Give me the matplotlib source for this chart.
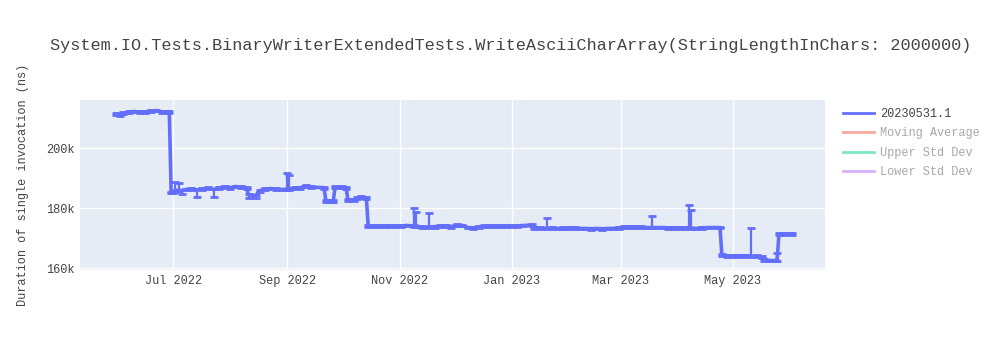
import matplotlib
matplotlib.use("Agg")
import matplotlib.pyplot as plt
import matplotlib.dates as mdates
from matplotlib.lines import Line2D
import pandas as pd

plt.rcParams['font.family'] = ['Liberation Mono', 'DejaVu Sans Mono']

## ==========================
## data (durations in k ns)
## ==========================
dates = [
    "2022-05-31", "2022-06-02", "2022-06-04", "2022-06-07", "2022-06-10", "2022-06-13",
    "2022-06-16", "2022-06-19", "2022-06-22", "2022-06-25", "2022-06-28", "2022-06-29",
    "2022-06-30", "2022-07-01", "2022-07-02", "2022-07-04", "2022-07-06", "2022-07-08",
    "2022-07-11", "2022-07-14", "2022-07-17", "2022-07-20", "2022-07-23", "2022-07-26",
    "2022-07-29", "2022-08-01", "2022-08-04", "2022-08-07", "2022-08-10", "2022-08-11",
    "2022-08-15", "2022-08-17", "2022-08-20", "2022-08-23", "2022-08-26", "2022-08-29",
    "2022-09-01", "2022-09-02", "2022-09-05", "2022-09-08", "2022-09-11", "2022-09-14",
    "2022-09-21", "2022-09-22", "2022-09-24", "2022-09-26", "2022-09-27", "2022-10-01",
    "2022-10-03", "2022-10-04", "2022-10-07", "2022-10-09", "2022-10-11", "2022-10-14",
    "2022-10-15", "2022-10-18", "2022-10-21", "2022-10-24", "2022-10-27", "2022-10-30",
    "2022-11-02", "2022-11-05", "2022-11-09", "2022-11-10", "2022-11-13", "2022-11-17",
    "2022-11-20", "2022-11-23", "2022-11-26", "2022-11-29", "2022-12-02", "2022-12-05",
    "2022-12-08", "2022-12-11", "2022-12-14", "2022-12-17", "2022-12-20", "2022-12-23",
    "2022-12-26", "2022-12-29", "2023-01-01", "2023-01-04", "2023-01-07", "2023-01-12",
    "2023-01-13", "2023-01-16", "2023-01-20", "2023-01-23", "2023-01-26", "2023-01-29",
    "2023-02-01", "2023-02-04", "2023-02-07", "2023-02-10", "2023-02-13", "2023-02-16",
    "2023-02-19", "2023-02-22", "2023-02-25", "2023-02-28", "2023-03-03", "2023-03-06",
    "2023-03-09", "2023-03-12", "2023-03-15", "2023-03-18", "2023-03-21", "2023-03-24",
    "2023-03-27", "2023-03-30", "2023-04-02", "2023-04-05", "2023-04-07", "2023-04-08",
    "2023-04-11", "2023-04-14", "2023-04-17", "2023-04-20", "2023-04-24", "2023-04-25",
    "2023-04-28", "2023-05-01", "2023-05-04", "2023-05-07", "2023-05-11", "2023-05-14",
    "2023-05-17", "2023-05-18", "2023-05-21", "2023-05-24", "2023-05-25", "2023-05-26",
    "2023-05-29", "2023-06-02",
]
values = [
    211.3, 211.0, 211.6, 212.0, 212.2, 211.9,
    212.1, 212.3, 212.5, 212.0, 212.0, 211.9,
    185.2, 185.4, 185.8, 186.0, 185.8, 186.2,
    186.3, 186.0, 186.4, 186.6, 186.2, 186.7,
    187.1, 186.8, 187.2, 186.9, 186.7, 184.4,
    184.2, 185.8, 186.3, 186.5, 186.3, 186.2,
    186.3, 186.4, 186.6, 186.8, 187.3, 187.0,
    186.8, 182.4, 182.2, 182.3, 186.9, 186.9,
    186.6, 182.8, 182.7, 183.4, 183.7, 183.3,
    173.9, 174.0, 174.1, 174.0, 174.0, 174.1,
    174.0, 174.2, 174.0, 174.1, 173.6, 173.7,
    173.8, 173.9, 174.0, 173.8, 174.3, 174.2,
    173.5, 173.4, 173.7, 173.9, 173.9, 174.0,
    173.9, 173.9, 174.0, 174.0, 174.2, 174.3,
    173.3, 173.3, 173.2, 173.3, 173.2, 173.3,
    173.4, 173.3, 173.2, 173.2, 173.1, 173.2,
    173.1, 173.2, 173.2, 173.3, 173.6, 173.7,
    173.6, 173.6, 173.5, 173.5, 173.5, 173.5,
    173.4, 173.4, 173.4, 173.3, 173.5, 173.4,
    173.2, 173.4, 173.5, 173.5, 173.5, 164.3,
    164.0, 164.0, 164.1, 164.1, 164.0, 163.9,
    163.7, 162.6, 162.5, 162.5, 162.7, 171.3,
    171.3, 171.3,
]
err_up = [
    0.3, 0.3, 0.3, 0.3, 0.3, 0.3,
    0.3, 0.3, 0.3, 0.3, 0.3, 0.3,
    0.3, 0.3, 3.0, 2.3, 0.3, 0.3,
    0.3, 0.3, 0.3, 0.3, 0.3, 0.3,
    0.3, 0.3, 0.3, 0.3, 0.3, 0.3,
    0.3, 0.3, 0.3, 0.3, 0.3, 0.3,
    5.5, 4.5, 0.3, 0.3, 0.3, 0.3,
    0.3, 0.3, 0.3, 0.3, 0.3, 0.3,
    0.3, 0.3, 0.3, 0.3, 0.3, 0.3,
    0.3, 0.3, 0.3, 0.3, 0.3, 0.3,
    0.3, 0.3, 6.1, 4.7, 0.3, 4.5,
    0.3, 0.3, 0.3, 0.3, 0.3, 0.3,
    0.3, 0.3, 0.3, 0.3, 0.3, 0.3,
    0.3, 0.3, 0.3, 0.3, 0.3, 0.3,
    0.3, 0.3, 3.4, 0.3, 0.3, 0.3,
    0.3, 0.3, 0.3, 0.3, 0.3, 0.3,
    0.3, 0.3, 0.3, 0.3, 0.3, 0.3,
    0.3, 0.3, 0.3, 3.8, 0.3, 0.3,
    0.3, 0.3, 0.3, 0.3, 7.5, 5.9,
    0.3, 0.3, 0.3, 0.3, 0.3, 0.3,
    0.3, 0.3, 0.3, 0.3, 9.2, 0.3,
    0.3, 0.3, 0.3, 0.3, 2.2, 0.3,
    0.3, 0.3,
]
err_down = [
    0.3, 0.3, 0.3, 0.3, 0.3, 0.3,
    0.3, 0.3, 0.3, 0.3, 0.3, 0.3,
    0.3, 0.3, 0.3, 0.3, 1.2, 0.3,
    0.3, 2.2, 0.3, 0.3, 2.4, 0.3,
    0.3, 0.3, 0.3, 0.3, 0.3, 0.9,
    0.9, 0.3, 0.3, 0.3, 0.3, 0.3,
    0.3, 0.3, 0.3, 0.3, 0.3, 0.3,
    0.3, 0.3, 0.3, 0.3, 0.3, 0.3,
    0.3, 0.3, 0.3, 0.3, 0.3, 0.3,
    0.3, 0.3, 0.3, 0.3, 0.3, 0.3,
    0.3, 0.3, 0.3, 0.3, 0.3, 0.3,
    0.3, 0.3, 0.3, 0.3, 0.3, 0.3,
    0.3, 0.3, 0.3, 0.3, 0.3, 0.3,
    0.3, 0.3, 0.3, 0.3, 0.3, 0.3,
    0.3, 0.3, 0.3, 0.3, 0.3, 0.3,
    0.3, 0.3, 0.3, 0.3, 0.3, 0.3,
    0.3, 0.3, 0.3, 0.3, 0.3, 0.3,
    0.3, 0.3, 0.3, 0.3, 0.3, 0.3,
    0.3, 0.3, 0.3, 0.3, 0.3, 0.3,
    0.3, 0.3, 0.3, 0.3, 0.3, 0.3,
    0.3, 0.3, 0.3, 0.3, 0.3, 0.3,
    0.3, 0.3, 0.3, 0.3, 0.3, 0.3,
    0.3, 0.3,
]

title = "System.IO.Tests.BinaryWriterExtendedTests.WriteAsciiCharArray(StringLengthInChars: 2000000)"
series_names = ["20230531.1", "Moving Average", "Upper Std Dev", "Lower Std Dev"]
series_colors = ["#636efa", "#EF553B", "#00cc96", "#ab63fa"]

x = pd.to_datetime(dates)

fig = plt.figure(figsize=(10, 3.5), dpi=100)
ax = fig.add_axes([0.08, 0.229, 0.745, 0.485])
ax.set_facecolor('#E5ECF6')

ax.errorbar(x, values, yerr=[err_down, err_up], color=series_colors[0],
            lw=2.6, elinewidth=1.6, capsize=3.2, capthick=2.0, zorder=3)

ax.set_xlim(pd.Timestamp("2022-05-11 12:00"), pd.Timestamp("2023-06-20"))
ax.set_ylim(159.4, 216)
ax.set_yticks([160, 180, 200])
ax.yaxis.set_major_formatter(plt.FuncFormatter(lambda v, p: f"{int(v)}k"))
ax.xaxis.set_major_locator(mdates.MonthLocator(bymonth=[1, 3, 5, 7, 9, 11]))
ax.xaxis.set_major_formatter(mdates.DateFormatter("%b %Y"))

ax.grid(True, color='white', lw=1)
ax.set_axisbelow(True)
for s in ax.spines.values():
    s.set_visible(False)
ax.tick_params(length=0, labelsize=8.6, labelcolor='#444444', pad=4)

ax.set_ylabel("Duration of single invocation (ns)", fontsize=8.6, color='#444444', labelpad=12)
fig.text(0.05, 0.87, title, fontsize=12.15, color='#444444', ha='left', va='center')

## legend (only the first trace visible, others greyed out)
handles = []
for i, (nm, c) in enumerate(zip(series_names, series_colors)):
    handles.append(Line2D([0], [0], color=c, lw=2, alpha=1.0 if i == 0 else 0.5))
leg = fig.legend(handles, series_names, loc='upper left', bbox_to_anchor=(0.838, 0.705),
                 frameon=False, fontsize=8.6, handlelength=2.6, handletextpad=0.5,
                 labelspacing=0.62, borderaxespad=0)
for i, t in enumerate(leg.get_texts()):
    t.set_color('#444444' if i == 0 else '#a8a8a8')

fig.savefig("out.png", dpi=100)
